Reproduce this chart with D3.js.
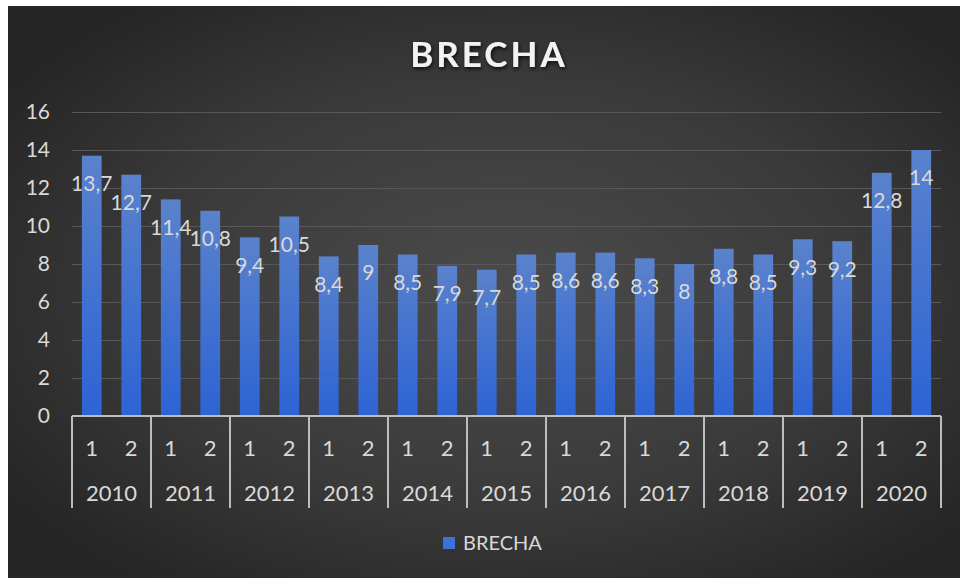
<!DOCTYPE html>
<html>
<head>
<meta charset="utf-8">
<script src="https://cdn.jsdelivr.net/npm/d3@7"></script>
<style>
  body { margin: 0; background: #fff; }
  svg { display: block; }
</style>
</head>
<body>
<script>
// data
var years = ["2010", "2011", "2012", "2013", "2014", "2015", "2016", "2017", "2018", "2019", "2020"];
var halves = ["1", "2"];
var firstHalf = [13.7, 11.4, 9.4, 8.4, 8.5, 7.7, 8.6, 8.3, 8.8, 9.3, 12.8];
var secondHalf = [12.7, 10.8, 10.5, 9, 7.9, 8.5, 8.6, 8, 8.5, 9.2, 14];
var yTicks = [0, 2, 4, 6, 8, 10, 12, 14, 16];
var seriesName = "BRECHA";

var W = 960, H = 578;
var plot = { left: 72, right: 941, top: 112, bottom: 416 };

var rows = [];
years.forEach(function(y, i) {
  rows.push({ year: y, half: "1", key: y + "-1", value: firstHalf[i] });
  rows.push({ year: y, half: "2", key: y + "-2", value: secondHalf[i] });
});

var svg = d3.select("body").append("svg").attr("width", W).attr("height", H);
var defs = svg.append("defs");

var bg = defs.append("radialGradient").attr("id", "bg")
  .attr("cx", "0.52").attr("cy", "0.5").attr("r", "0.62");
bg.append("stop").attr("offset", "0%").attr("stop-color", "#4b4b4b");
bg.append("stop").attr("offset", "60%").attr("stop-color", "#3a3a3a");
bg.append("stop").attr("offset", "100%").attr("stop-color", "#262626");

var barGrad = defs.append("linearGradient").attr("id", "bar")
  .attr("x1", 0).attr("y1", 0).attr("x2", 0).attr("y2", 1);
barGrad.append("stop").attr("offset", "0%").attr("stop-color", "#5a82cc");
barGrad.append("stop").attr("offset", "100%").attr("stop-color", "#2d63d4");

var shadow = defs.append("filter").attr("id", "shadow")
  .attr("x", "-20%").attr("y", "-20%").attr("width", "140%").attr("height", "160%");
shadow.append("feDropShadow").attr("dx", 1).attr("dy", 2).attr("stdDeviation", 2)
  .attr("flood-color", "#000").attr("flood-opacity", 0.8);

svg.append("rect").attr("x", 8).attr("y", 6).attr("width", W - 8).attr("height", H - 6)
  .attr("fill", "url(#bg)");

var x = d3.scaleBand().domain(rows.map(function(d) { return d.key; }))
  .range([plot.left, plot.right]).paddingInner(0.5).paddingOuter(0.25);
var xYear = d3.scaleBand().domain(years).range([plot.left, plot.right]);
var y = d3.scaleLinear().domain([0, 16]).range([plot.bottom, plot.top]);

var font = "Lato, 'Open Sans', sans-serif";
var textCol = "#d9d9d9";

// gridlines
svg.append("g").selectAll("line").data(yTicks.filter(function(t) { return t > 0; }))
  .enter().append("line")
  .attr("x1", plot.left).attr("x2", plot.right)
  .attr("y1", function(d) { return y(d) + 0.5; }).attr("y2", function(d) { return y(d) + 0.5; })
  .attr("stroke", "#585858").attr("stroke-width", 1);

// y axis labels
svg.append("g").selectAll("text").data(yTicks).enter().append("text")
  .attr("x", 50).attr("y", function(d) { return y(d); }).attr("dy", "0.35em")
  .attr("text-anchor", "end").attr("fill", textCol)
  .style("font-family", font).style("font-size", "21px")
  .text(function(d) { return d; });

// bars
svg.append("g").selectAll("rect").data(rows).enter().append("rect")
  .attr("x", function(d) { return x(d.key); })
  .attr("width", x.bandwidth())
  .attr("y", function(d) { return y(d.value); })
  .attr("height", function(d) { return y(0) - y(d.value); })
  .attr("fill", "url(#bar)");

// data labels
var fmt = function(v) { return String(v).replace(".", ","); };
svg.append("g").selectAll("text").data(rows).enter().append("text")
  .attr("x", function(d) { return x(d.key) + x.bandwidth() / 2; })
  .attr("y", function(d) { return y(d.value) + 28; })
  .attr("dy", "0.35em").attr("text-anchor", "middle")
  .attr("fill", textCol)
  .style("font-family", font).style("font-size", "21px")
  .text(function(d) { return fmt(d.value); });

// category axis
var axisCol = "#bdbdbd";
var ax = svg.append("g");
ax.append("line").attr("x1", plot.left).attr("x2", plot.right)
  .attr("y1", plot.bottom).attr("y2", plot.bottom)
  .attr("stroke", axisCol).attr("stroke-width", 2);
ax.selectAll("line.div").data(years.concat(["end"])).enter().append("line")
  .attr("class", "div")
  .attr("x1", function(d, i) { return i < years.length ? xYear(d) : plot.right; })
  .attr("x2", function(d, i) { return i < years.length ? xYear(d) : plot.right; })
  .attr("y1", plot.bottom).attr("y2", 508)
  .attr("stroke", axisCol).attr("stroke-width", 2);
ax.selectAll("text.half").data(rows).enter().append("text")
  .attr("class", "half")
  .attr("x", function(d) { return x(d.key) + x.bandwidth() / 2; })
  .attr("y", 448).attr("dy", "0.35em").attr("text-anchor", "middle")
  .attr("fill", textCol).style("font-family", font).style("font-size", "22px")
  .text(function(d) { return d.half; });
ax.selectAll("text.year").data(years).enter().append("text")
  .attr("class", "year")
  .attr("x", function(d) { return xYear(d) + xYear.bandwidth() / 2; })
  .attr("y", 493).attr("dy", "0.35em").attr("text-anchor", "middle")
  .attr("fill", textCol).style("font-family", font).style("font-size", "22px")
  .text(function(d) { return d; });

// title
svg.append("text").attr("x", 489).attr("y", 55).attr("dy", "0.35em")
  .attr("text-anchor", "middle").attr("fill", "#f2f2f2")
  .attr("filter", "url(#shadow)")
  .style("font-family", font).style("font-size", "35px").style("font-weight", "bold")
  .style("letter-spacing", "3px")
  .text(seriesName);

// legend
var lg = svg.append("g").attr("transform", "translate(443,537)");
lg.append("rect").attr("width", 12).attr("height", 12).attr("fill", "#3f72d6");
lg.append("text").attr("x", 20).attr("y", 6).attr("dy", "0.35em")
  .attr("fill", textCol).style("font-family", font).style("font-size", "20px")
  .text(seriesName);
</script>
</body>
</html>
